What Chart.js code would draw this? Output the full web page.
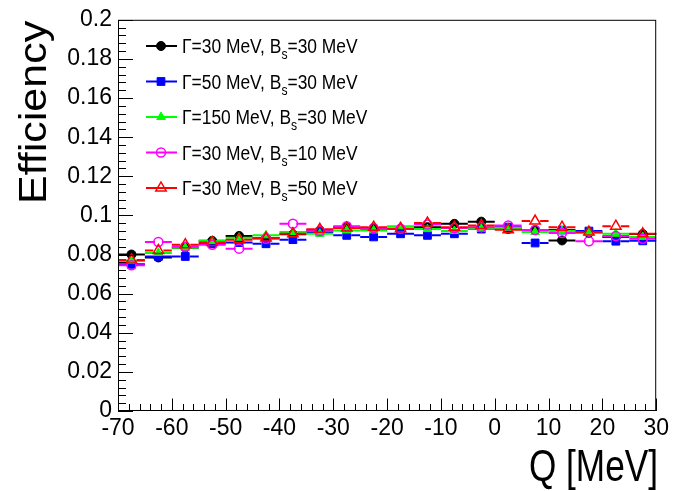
<!DOCTYPE html>
<html>
<head>
<meta charset="utf-8">
<script src="https://cdn.jsdelivr.net/npm/chart.js@4.4.0/dist/chart.umd.min.js"></script>
<style>
  body { margin: 0; background: #fff; }
  #wrap { width: 673px; height: 491px; }
</style>
</head>
<body>
<div id="wrap"><canvas id="c" width="673" height="491"></canvas></div>
<script>
// bin centres of Q [MeV], bins are 5 MeV wide
const qBins = [-67.5, -62.5, -57.5, -52.5, -47.5, -42.5, -37.5, -32.5, -27.5, -22.5,
               -17.5, -12.5, -7.5, -2.5, 2.5, 7.5, 12.5, 17.5, 22.5, 27.5];
const binHalf = 2.5;

// efficiency per bin
const effG30B30 = [0.0800, 0.0785, 0.0835, 0.0870, 0.0895, 0.0885, 0.0903, 0.0923, 0.0940, 0.0932,
                   0.0930, 0.0940, 0.0957, 0.0968, 0.0930, 0.0925, 0.0872, 0.0910, 0.0890, 0.0905];
const effG50B30 = [0.0750, 0.0790, 0.0790, 0.0855, 0.0861, 0.0855, 0.0876, 0.0915, 0.0898, 0.0890,
                   0.0906, 0.0898, 0.0906, 0.0930, 0.0940, 0.0859, 0.0925, 0.0920, 0.0868, 0.0870];
const effG150B30 = [0.0767, 0.0808, 0.0835, 0.0869, 0.0886, 0.0898, 0.0915, 0.0906, 0.0923, 0.0923,
                    0.0944, 0.0930, 0.0920, 0.0932, 0.0935, 0.0915, 0.0920, 0.0910, 0.0906, 0.0890];
const effG30B10 = [0.0745, 0.0864, 0.0840, 0.0850, 0.0830, 0.0880, 0.0957, 0.0920, 0.0945, 0.0935,
                   0.0932, 0.0954, 0.0935, 0.0940, 0.0949, 0.0925, 0.0910, 0.0868, 0.0895, 0.0880];
const effG30B50 = [0.0772, 0.0821, 0.0850, 0.0862, 0.0876, 0.0884, 0.0906, 0.0929, 0.0935, 0.0940,
                   0.0932, 0.0961, 0.0940, 0.0949, 0.0927, 0.0971, 0.0940, 0.0915, 0.0945, 0.0906];

// statistical error (half length of vertical bar) per series
const effErr = [0.0013, 0.0013, 0.0013, 0.0013, 0.0018];

// legend text: [before subscript, subscript, after]
const legendText = [
  ['\u0393=30 MeV, B', 's', '=30 MeV'],
  ['\u0393=50 MeV, B', 's', '=30 MeV'],
  ['\u0393=150 MeV, B', 's', '=30 MeV'],
  ['\u0393=30 MeV, B', 's', '=10 MeV'],
  ['\u0393=30 MeV, B', 's', '=50 MeV'],
];

const yTicks = [0, 0.02, 0.04, 0.06, 0.08, 0.1, 0.12, 0.14, 0.16, 0.18, 0.2];

const FONT = '"Liberation Sans", Arial, Helvetica, sans-serif';

function series(vals, color, style, filled, order, err, radius) {
  return {
    data: qBins.map((q, i) => ({ x: q, y: vals[i] })),
    borderColor: color,
    backgroundColor: filled ? color : 'rgba(0,0,0,0)',
    pointStyle: style,
    pointRadius: radius,
    pointBorderWidth: filled ? 1 : 1.5,
    showLine: false,
    order: order,
    yErr: err,
    filled: filled,
  };
}

const datasets = [
  series(effG30B30, '#000000', 'circle', true, 4, effErr[0], 4.5),
  series(effG50B30, '#0000ff', 'rect', true, 3, effErr[1], 5.5),
  series(effG150B30, '#00ff00', 'triangle', true, 2, effErr[2], 5),
  series(effG30B10, '#ff00ff', 'circle', false, 1, effErr[3], 4.5),
  series(effG30B50, '#ff0000', 'triangle', false, 0, effErr[4], 6),
];

// draw a marker like the dataset would (used for legend)
function marker(ctx, ds, x, y) {
  ctx.save();
  ctx.strokeStyle = ds.borderColor;
  ctx.fillStyle = ds.backgroundColor;
  ctx.lineWidth = ds.pointBorderWidth;
  const r = ds.pointRadius;
  ctx.beginPath();
  if (ds.pointStyle === 'circle') {
    ctx.arc(x, y, r, 0, Math.PI * 2);
  } else if (ds.pointStyle === 'rect') {
    const h = r * Math.SQRT1_2;
    ctx.rect(x - h, y - h, 2 * h, 2 * h);
  } else {
    ctx.moveTo(x, y - r);
    ctx.lineTo(x + r * 0.866, y + r * 0.5);
    ctx.lineTo(x - r * 0.866, y + r * 0.5);
    ctx.closePath();
  }
  ctx.fill();
  ctx.stroke();
  ctx.restore();
}

const rootStyle = {
  id: 'rootStyle',
  // error bars under each dataset's markers, with a gap around the marker
  beforeDatasetDraw(chart, args) {
    const ds = chart.data.datasets[args.index];
    const xs = chart.scales.x, ys = chart.scales.y;
    const ctx = chart.ctx;
    const gap = ds.pointRadius - 1;
    ctx.save();
    ctx.strokeStyle = ds.borderColor;
    ctx.lineWidth = 2;
    ds.data.forEach(p => {
      const px = xs.getPixelForValue(p.x), py = ys.getPixelForValue(p.y);
      const x1 = xs.getPixelForValue(p.x - binHalf), x2 = xs.getPixelForValue(p.x + binHalf);
      const yTop = ys.getPixelForValue(p.y + ds.yErr), yBot = ys.getPixelForValue(p.y - ds.yErr);
      ctx.beginPath();
      ctx.moveTo(x1, py); ctx.lineTo(px - gap, py);
      ctx.moveTo(px + gap, py); ctx.lineTo(x2, py);
      if (py - yTop > gap) { ctx.moveTo(px, py - gap); ctx.lineTo(px, yTop); }
      if (yBot - py > gap) { ctx.moveTo(px, py + gap); ctx.lineTo(px, yBot); }
      ctx.stroke();
    });
    ctx.restore();
  },
  afterDraw(chart) {
    const ctx = chart.ctx;
    const a = chart.chartArea;
    const xs = chart.scales.x, ys = chart.scales.y;
    ctx.save();
    // frame
    ctx.strokeStyle = '#000';
    ctx.lineWidth = 1;
    ctx.strokeRect(a.left + 0.5, a.top + 0.5, a.right - a.left - 1, a.bottom - a.top - 1);

    // ticks, ROOT style (inside the frame)
    ctx.beginPath();
    for (let v = -70; v <= 30; v += 2) {
      const px = Math.round(xs.getPixelForValue(v)) + 0.5;
      const len = (v % 10 === 0) ? 12.5 : 7;
      ctx.moveTo(px, a.bottom); ctx.lineTo(px, a.bottom - len);
    }
    for (let i = 0; i <= 50; i++) {
      const py = Math.round(ys.getPixelForValue(i * 0.004)) + 0.5;
      const len = (i % 5 === 0) ? 15 : 8;
      ctx.moveTo(a.left, py); ctx.lineTo(a.left + len, py);
    }
    ctx.stroke();

    // axis titles
    ctx.fillStyle = '#000';
    ctx.save();
    ctx.translate(46, a.top + 1);
    ctx.scale(0.9, 1);
    ctx.rotate(-Math.PI / 2);
    ctx.font = '43px ' + FONT;
    ctx.textAlign = 'right';
    ctx.textBaseline = 'alphabetic';
    ctx.fillText('Efficiency', 0, 0);
    ctx.restore();

    ctx.save();
    ctx.translate(658, 481);
    ctx.scale(0.8, 1);
    ctx.font = '44px ' + FONT;
    ctx.textAlign = 'right';
    ctx.textBaseline = 'alphabetic';
    ctx.fillText('Q [MeV]', 0, 0);
    ctx.restore();

    // legend
    chart.data.datasets.forEach((ds, i) => {
      const y = 46 + i * 35.5;
      ctx.strokeStyle = ds.borderColor;
      ctx.lineWidth = 2;
      ctx.beginPath();
      ctx.moveTo(146, y); ctx.lineTo(177, y);
      ctx.stroke();
      marker(ctx, ds, 161, y);

      const t = legendText[i];
      ctx.save();
      ctx.translate(182, y + 7);
      ctx.scale(0.87, 1);
      ctx.fillStyle = '#000';
      ctx.textBaseline = 'alphabetic';
      ctx.textAlign = 'left';
      ctx.font = '20px ' + FONT;
      let x = 0;
      ctx.fillText(t[0], x, 0);
      x += ctx.measureText(t[0]).width;
      ctx.font = '14px ' + FONT;
      ctx.fillText(t[1], x, 6);
      x += ctx.measureText(t[1]).width;
      ctx.font = '20px ' + FONT;
      ctx.fillText(t[2], x, 0);
      ctx.restore();
    });
    ctx.restore();
  }
};

new Chart(document.getElementById('c'), {
  type: 'scatter',
  data: { datasets: datasets },
  options: {
    responsive: false,
    animation: false,
    layout: { padding: { top: 19, right: 16, left: 0, bottom: 0 } },
    plugins: {
      legend: { display: false },
      tooltip: { enabled: false },
    },
    scales: {
      x: {
        type: 'linear',
        min: -70, max: 30,
        grid: { display: false, drawTicks: false },
        border: { display: false },
        ticks: {
          stepSize: 10,
          padding: 4,
          color: '#000',
          font: { family: FONT, size: 23 },
          maxRotation: 0,
          callback: v => String(v),
        },
        afterFit: s => { s.height = 80; },
      },
      y: {
        type: 'linear',
        min: 0, max: 0.2,
        afterBuildTicks: s => { s.ticks = yTicks.map(v => ({ value: v })); },
        grid: { display: false, drawTicks: false },
        border: { display: false },
        ticks: {
          padding: 6,
          color: '#000',
          font: { family: FONT, size: 23 },
          callback: v => String(+v.toFixed(3)),
        },
        afterFit: s => { s.width = 118; },
      },
    },
  },
  plugins: [rootStyle],
});
</script>
</body>
</html>
